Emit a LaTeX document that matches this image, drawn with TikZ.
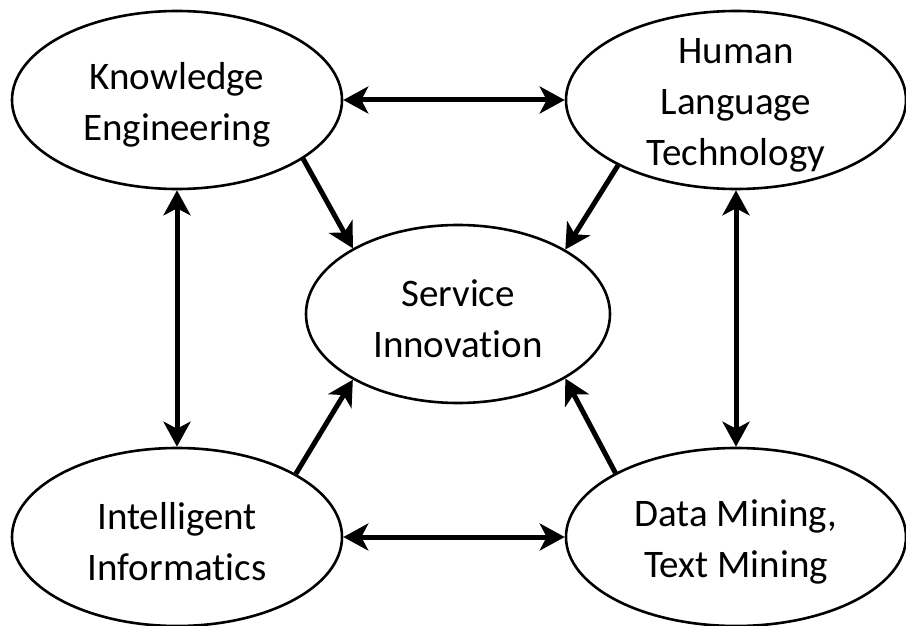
\documentclass[tikz,border=0pt]{standalone}
\usepackage{fontspec}
\setmainfont{Carlito}[Ligatures=NoCommon]
\usepackage{tikz}
\usetikzlibrary{shapes.geometric, arrows.meta}

\begin{document}
\begin{tikzpicture}[x=1pt, y=-1pt,
    topic/.style={ellipse, draw, line width=2.6pt, inner sep=0pt,
        minimum width=330pt, minimum height=178pt},
    topictext/.style={align=center, yshift=-5pt,
        font=\fontsize{39}{51}\selectfont},
    link/.style={line width=5pt,
        -{Stealth[length=25pt, width=27pt, inset=7pt]}},
    both/.style={link,
        {Stealth[length=25pt, width=27pt, inset=7pt]}-{Stealth[length=25pt, width=27pt, inset=7pt]}}]
    \useasboundingbox (0,0) rectangle (906,626);

    % The five topics
    \node[topic, label={[topictext]center:Knowledge\\Engineering}] (ke) at (177,100) {};
    \node[topic, minimum width=340pt, label={[topictext]center:Human\\Language\\Technology}] (hlt) at (736,100) {};
    \node[topic, minimum width=304pt, label={[topictext]center:Service\\Innovation}] (si) at (458,314) {};
    \node[topic, label={[topictext]center:Intelligent\\Informatics}] (ii) at (177,537) {};
    \node[topic, minimum width=340pt, label={[topictext]center:Data Mining,\\Text Mining}] (dm) at (736,537) {};

    % Links around the square
    \draw[both] (ke) -- (hlt);
    \draw[both] (ii) -- (dm);
    \draw[both] (ke) -- (ii);
    \draw[both] (hlt) -- (dm);

    % Links into the centre
    \draw[link] (ke.-25) -- (si.148);
    \draw[link] (hlt.-151) -- (si.31);
    \draw[link] (ii.28) -- (si.-148);
    \draw[link] (dm.152) -- (si.-31);
\end{tikzpicture}
\end{document}
